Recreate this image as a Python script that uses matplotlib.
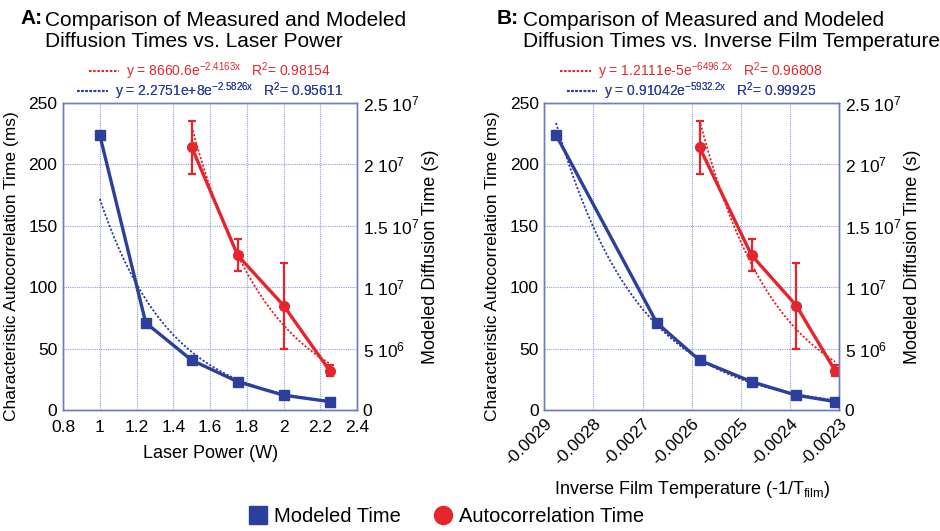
import numpy as np
import matplotlib
matplotlib.use('Agg')
import matplotlib.pyplot as plt
from matplotlib.lines import Line2D

plt.rcParams['font.family'] = ['Liberation Sans', 'DejaVu Sans']
plt.rcParams['mathtext.fontset'] = 'custom'
plt.rcParams['mathtext.rm'] = 'Liberation Sans'
plt.rcParams['mathtext.it'] = 'Liberation Sans:italic'

# data
power = [1.0, 1.25, 1.5, 1.75, 2.0, 2.25]
inv_temp = [-0.002876, -0.002671, -0.002584, -0.002478, -0.002387, -0.002308]
modeled_s = [2.24e7, 7.1e6, 4.05e6, 2.3e6, 1.2e6, 0.68e6]
auto_ms = [214, 126, 85, 32]
auto_err = [21.5, 13, 35, 4.5]
# fit coefficients printed on the chart  y = a*exp(b*x)
fit_power_red = (8660.6, -2.4163)
fit_power_blue = (2.2751e8, -2.5826)
fit_temp_red = (1.2111e-5, -6496.2)
fit_temp_blue = (0.91042, -5932.2)

BLUE = '#2d3f9c'
RED = '#e4262c'
SPINE = '#6d7cc2'
GRID = '#8f9dd6'

fig = plt.figure(figsize=(9.4, 5.31), dpi=100)


def panel(rect, x, xlim, xticks, xticklabels, fits, eqs):
    ax = fig.add_axes(rect)
    ax2 = ax.twinx()
    ax.set_xlim(xlim)
    ax.set_ylim(0, 250)
    ax2.set_ylim(0, 2.5e7)
    ax.set_xticks(xticks)
    ax.set_xticklabels(xticklabels, fontsize=12.5)
    ax.set_yticks([0, 50, 100, 150, 200, 250])
    ax.set_yticklabels(['0', '50', '100', '150', '200', '250'], fontsize=12.5)
    ax2.set_yticks([0, 5e6, 1e7, 1.5e7, 2e7, 2.5e7])
    ax2.set_yticklabels(['0', r'5 10$^6$', r'1 10$^7$', r'1.5 10$^7$', r'2 10$^7$', r'2.5 10$^7$'], fontsize=12.5)
    for a in (ax, ax2):
        a.tick_params(length=0, pad=4)
        for s in a.spines.values():
            s.set_color(SPINE)
            s.set_linewidth(1.0)
    ax.tick_params(axis='x', pad=7)
    ax.grid(True, color=GRID, linestyle=(0, (1, 1)), linewidth=0.8)
    ax.set_axisbelow(True)

    xr = x[2:]
    # autocorrelation (ms, left axis)
    ax.errorbar(xr, auto_ms, yerr=auto_err, color=RED, linewidth=2.4, marker='o',
                markersize=7, capsize=3, elinewidth=1.6, capthick=1.6, zorder=4)
    a, b = fits[0]
    xx = np.linspace(xr[0], xr[-1], 200)
    ax.plot(xx, a * np.exp(b * xx), color=RED, linestyle=(0, (1.2, 1)), linewidth=1.3, zorder=3)
    # modeled (s, right axis)
    ax2.plot(x, modeled_s, color=BLUE, linewidth=2.4, marker='s', markersize=7, zorder=4)
    a, b = fits[1]
    xx = np.linspace(x[0], x[-1], 200)
    ax2.plot(xx, a * np.exp(b * xx), color=BLUE, linestyle=(0, (1.2, 1)), linewidth=1.3, zorder=3)

    # fit equations above the axes
    for i, (txt, col) in enumerate(zip(eqs, (RED, BLUE))):
        h = Line2D([], [], color=col, linestyle=(0, (1.2, 0.8)), linewidth=1.5)
        lg = ax.legend([h], [txt], loc='center', bbox_to_anchor=(0.5, 1.105 - 0.065 * i),
                       frameon=False, fontsize=10, handlelength=2.2, handletextpad=0.5,
                       borderpad=0, labelcolor=col)
        ax.add_artist(lg)
    return ax, ax2


axA, axA2 = panel([0.067, 0.228, 0.313, 0.578], power, (0.8, 2.4),
                  [0.8, 1.0, 1.2, 1.4, 1.6, 1.8, 2.0, 2.2, 2.4],
                  ['0.8', '1', '1.2', '1.4', '1.6', '1.8', '2', '2.2', '2.4'],
                  (fit_power_red, fit_power_blue),
                  [r'y = 8660.6e$^{\mathregular{-2.4163x}}$   R$^\mathregular{2}$= 0.98154',
                   r'y = 2.2751e+8e$^{\mathregular{-2.5826x}}$   R$^\mathregular{2}$= 0.95611'])
axA.set_xlabel('Laser Power (W)', fontsize=13)
axA.xaxis.set_label_coords(0.5, -0.115)

axB, axB2 = panel([0.579, 0.228, 0.3136, 0.578], inv_temp, (-0.0029, -0.0023),
                  [-0.0029, -0.0028, -0.0027, -0.0026, -0.0025, -0.0024, -0.0023],
                  ['-0.0029', '-0.0028', '-0.0027', '-0.0026', '-0.0025', '-0.0024', '-0.0023'],
                  (fit_temp_red, fit_temp_blue),
                  [r'y = 1.2111e-5e$^{\mathregular{-6496.2x}}$   R$^\mathregular{2}$= 0.96808',
                   r'y = 0.91042e$^{\mathregular{-5932.2x}}$   R$^\mathregular{2}$= 0.99925'])
axB.tick_params(axis='x', pad=4)
for lbl in axB.get_xticklabels():
    lbl.set_rotation(45)
    lbl.set_ha('right')
    lbl.set_rotation_mode('anchor')
axB.set_xlabel(r'Inverse Film Temperature (-1/T$_{\mathregular{film}}$)', fontsize=13)
axB.xaxis.set_label_coords(0.5, -0.225)

for ax, ax2 in ((axA, axA2), (axB, axB2)):
    ax.set_ylabel('Characteristic Autocorrelation Time (ms)', fontsize=12.5)
    ax.yaxis.set_label_coords(-0.15, 0.47)
    ax2.set_ylabel('Modeled Diffusion Time (s)', fontsize=13)
    ax2.yaxis.set_label_coords(1.22, 0.5)

# titles
fig.text(20 / 940, 1 - 18 / 531, 'A:', fontsize=15, fontweight='bold', va='center')
fig.text(45 / 940, 1 - 31 / 531, 'Comparison of Measured and Modeled\nDiffusion Times vs. Laser Power',
         fontsize=15, va='center', linespacing=1.12)
fig.text(497 / 940, 1 - 18 / 531, 'B:', fontsize=15, fontweight='bold', va='center')
fig.text(523 / 940, 1 - 31 / 531, 'Comparison of Measured and Modeled\nDiffusion Times vs. Inverse Film Temperature',
         fontsize=15, va='center', linespacing=1.12)

# bottom legend
handles = [Line2D([], [], color=BLUE, marker='s', linestyle='none', markersize=13),
           Line2D([], [], color=RED, marker='o', linestyle='none', markersize=13)]
fig.legend(handles, ['Modeled Time', 'Autocorrelation Time'], loc='center',
           bbox_to_anchor=(446 / 940, 1 - 517 / 531), ncol=2, frameon=False,
           fontsize=14.5, handletextpad=0.3, columnspacing=1.6, handlelength=1.0)

fig.savefig('out.png', dpi=100)
